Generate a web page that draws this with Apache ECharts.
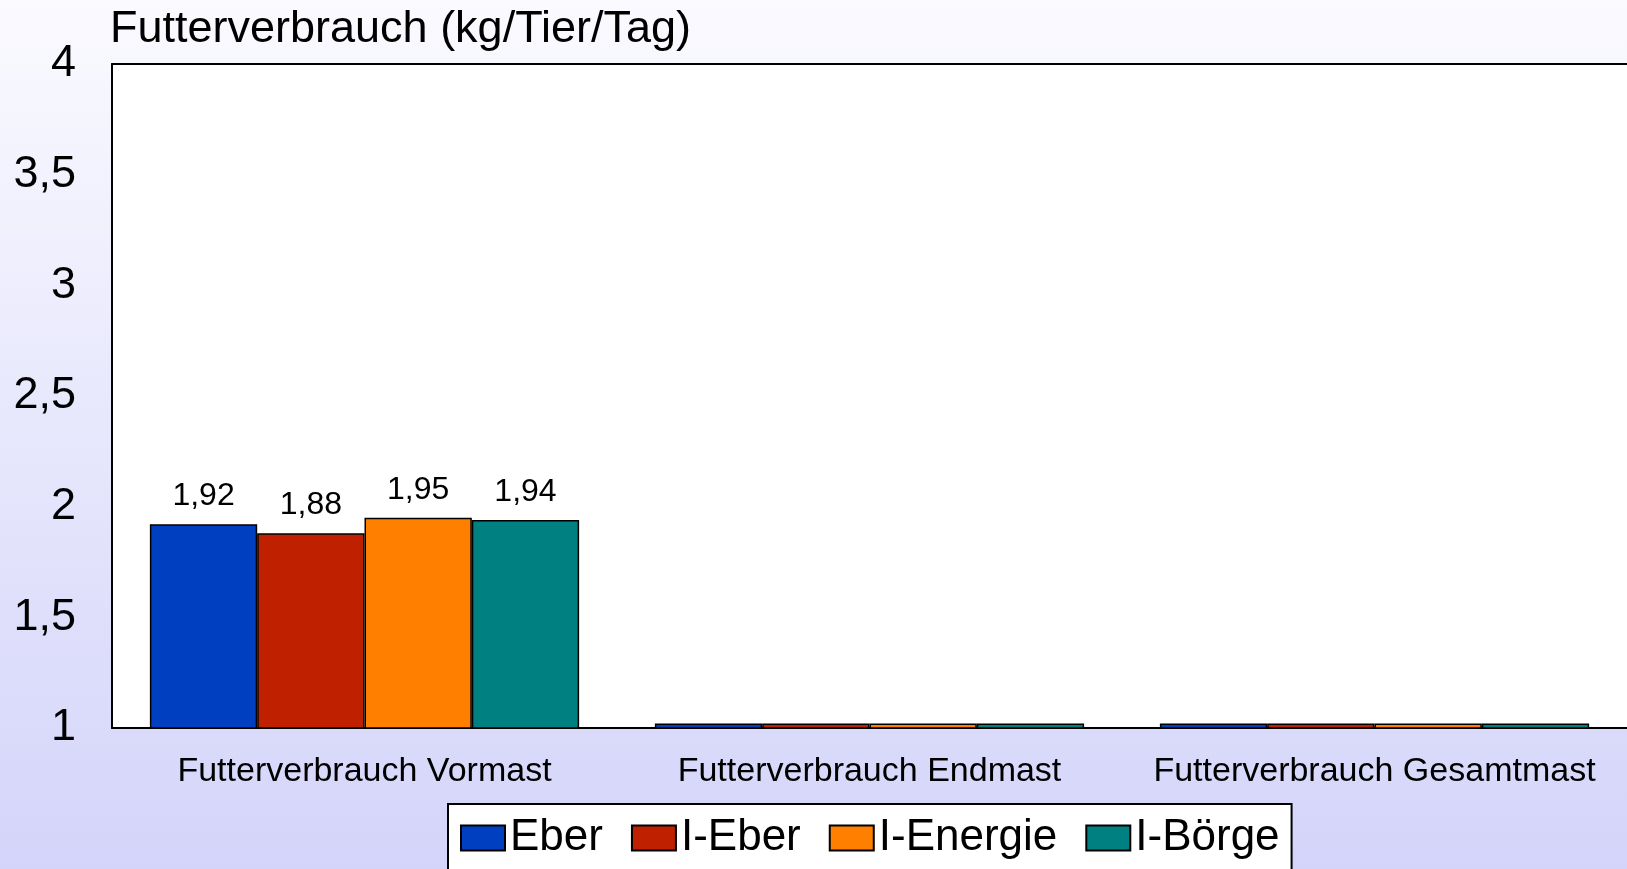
<!DOCTYPE html>
<html>
<head>
<meta charset="utf-8">
<script src="https://cdn.jsdelivr.net/npm/echarts@6/dist/echarts.min.js"></script>
<style>
	html, body { margin: 0; padding: 0; }
	#chart { width: 1627px; height: 869px; }
</style>
</head>
<body>
<div id="chart"></div>
<script>
var categories = ['Futterverbrauch Vormast', 'Futterverbrauch Endmast', 'Futterverbrauch Gesamtmast'];
var seriesNames = ['Eber', 'I-Eber', 'I-Energie', 'I-Börge'];
var seriesColors = ['#0040C0', '#BF2000', '#FF8000', '#008080'];
var eber = [1.92, 1.02, 1.02];
var iEber = [1.88, 1.02, 1.02];
var iEnergie = [1.95, 1.02, 1.02];
var iBoerge = [1.94, 1.02, 1.02];
var yTicks = { min: 1, max: 4, interval: 0.5 };

var font = 'Liberation Sans, Arial, sans-serif';
var comma = (v, digits) => v.toFixed(digits).replace('.', ',');

var myChart = echarts.init(document.getElementById('chart'));

var series = [eber, iEber, iEnergie, iBoerge].map((values, i) => {
	return {
		name: seriesNames[i],
		type: 'bar',
		data: values,
		barGap: 0,
		barCategoryGap: '15%',
		itemStyle: {
			color: seriesColors[i],
			borderColor: '#000',
			borderWidth: 1.5
		},
		label: {
			show: true,
			position: 'top',
			distance: 12,
			color: '#000',
			fontFamily: font,
			fontSize: 32,
			// only the first group carries value labels
			formatter: (p) => p.dataIndex === 0 ? comma(p.value, 2) : ''
		}
	};
});

var option = {
	animation: false,
	backgroundColor: new echarts.graphic.LinearGradient(0, 0, 0, 1, [
		{ offset: 0, color: '#FAFAFF' },
		{ offset: 1, color: '#D4D4FA' }
	]),
	title: {
		text: 'Futterverbrauch (kg/Tier/Tag)',
		left: 105,
		top: 2,
		textStyle: {
			fontFamily: font,
			fontSize: 45,
			fontWeight: 'normal',
			color: '#000'
		}
	},
	legend: {
		data: seriesNames,
		left: 448,
		top: 804,
		padding: [12, 12, 30, 12],
		itemWidth: 44,
		itemHeight: 25,
		itemGap: 28,
		icon: 'rect',
		backgroundColor: '#fff',
		borderColor: '#000',
		borderWidth: 2,
		borderRadius: 0,
		textStyle: {
			fontFamily: font,
			fontSize: 44,
			color: '#000'
		}
	},
	grid: {
		left: 112,
		right: 0,
		top: 64,
		bottom: 141,
		show: true,
		backgroundColor: '#fff',
		borderWidth: 0,
		containLabel: false
	},
	xAxis: [{
		type: 'category',
		data: categories,
		axisLine: { show: true, lineStyle: { color: '#000', width: 2 } },
		axisTick: { show: false },
		axisLabel: {
			interval: 0,
			margin: 27,
			color: '#000',
			fontFamily: font,
			fontSize: 34
		}
	}, {
		// top edge of the plot frame
		type: 'category',
		data: categories,
		position: 'top',
		axisLine: { show: true, lineStyle: { color: '#000', width: 2 } },
		axisTick: { show: false },
		axisLabel: { show: false }
	}],
	yAxis: {
		type: 'value',
		min: yTicks.min,
		max: yTicks.max,
		interval: yTicks.interval,
		axisLine: { show: true, lineStyle: { color: '#000', width: 2 } },
		axisTick: { show: false },
		splitLine: { show: false },
		axisLabel: {
			margin: 36,
			color: '#000',
			fontFamily: font,
			fontSize: 45,
			formatter: (v) => String(v).replace('.', ',')
		}
	},
	series: series
};

myChart.setOption(option);
</script>
</body>
</html>
